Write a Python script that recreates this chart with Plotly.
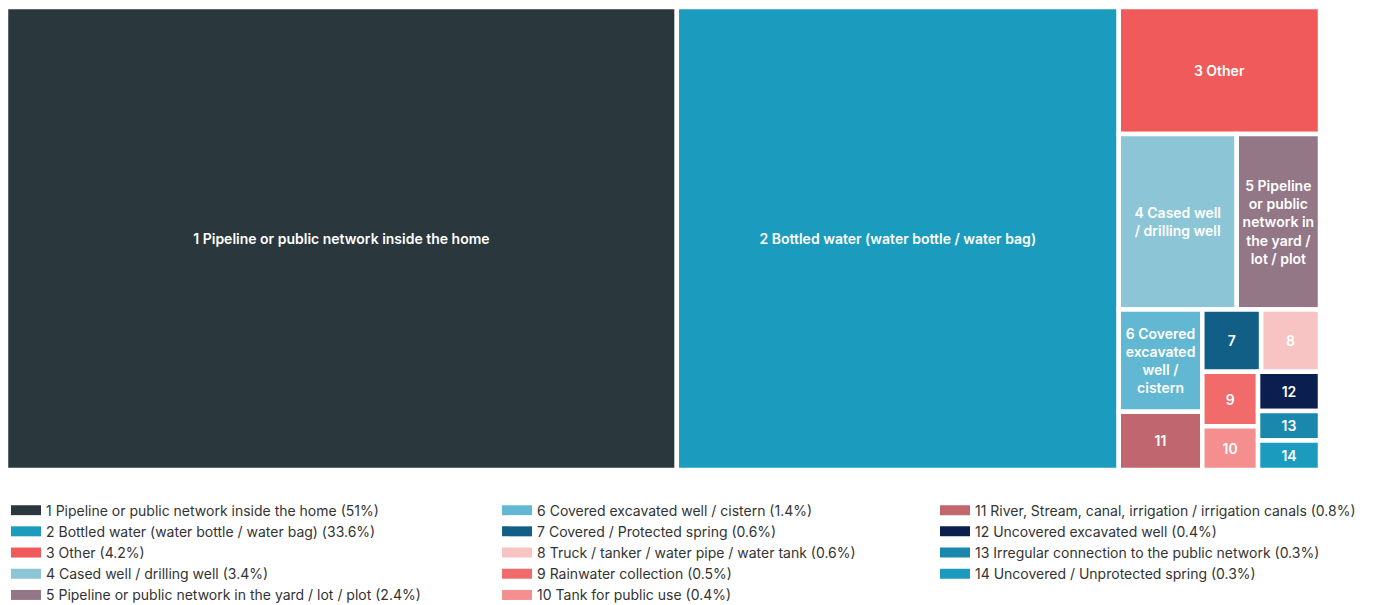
import plotly.graph_objects as go

ids = [str(i) for i in range(1, 15)]
names = [
    "Pipeline or public network inside the home",
    "Bottled water (water bottle / water bag)",
    "Other",
    "Cased well / drilling well",
    "Pipeline or public network in the yard / lot / plot",
    "Covered excavated well / cistern",
    "Covered / Protected spring",
    "Truck / tanker / water pipe / water tank",
    "Rainwater collection",
    "Tank for public use",
    "River, Stream, canal, irrigation / irrigation canals",
    "Uncovered excavated well",
    "Irregular connection to the public network",
    "Uncovered / Unprotected spring",
]
values = [51, 33.6, 4.2, 3.4, 2.4, 1.4, 0.6, 0.6, 0.5, 0.4, 0.8, 0.4, 0.3, 0.3]
tile_text = [
    "1 Pipeline or public network inside the home",
    "2 Bottled water (water bottle / water bag)",
    "3 Other",
    "4 Cased well<br>/ drilling well",
    "5 Pipeline<br>or public<br>network in<br>the yard /<br>lot / plot",
    "6 Covered<br>excavated<br>well /<br>cistern",
    "7", "8", "9", "10", "11", "12", "13", "14",
]
colors = ["#2a373d", "#1b9bbd", "#f05a5a", "#8cc6d6", "#937786", "#62b8d2",
          "#115e87", "#f8c3c3", "#f26b6b", "#f58f8f", "#c0666e", "#0a1f4f",
          "#1a88ac", "#1b9bbd"]

FONT = "Inter"

fig = go.Figure()
fig.add_trace(go.Treemap(
    ids=ids,
    labels=[f"{i} {n}" for i, n in zip(ids, names)],
    parents=[""] * len(ids),
    values=values,
    text=tile_text,
    textinfo="text",
    textposition="middle center",
    textfont=dict(family=FONT, size=14, color="white", weight=600),
    marker=dict(colors=colors, line=dict(color="white", width=4.5),
                pad=dict(t=0, l=0, r=0, b=0)),
    root=dict(color="white"),
    pathbar=dict(visible=False),
    tiling=dict(pad=0, squarifyratio=1.15),
    sort=True,
    hoverinfo="label+value",
))

legend_of = lambda i: "legend" if i < 5 else ("legend2" if i < 10 else "legend3")
for i, (n, v, c) in enumerate(zip(names, values, colors)):
    fig.add_trace(go.Scatter(
        x=[None], y=[None], mode="lines",
        line=dict(color=c, width=11),
        name=f"{i+1} {n} ({v:g}%)",
        legend=legend_of(i),
        hoverinfo="skip",
    ))

leg_common = dict(
    orientation="v", yanchor="top", xanchor="left",
    font=dict(family=FONT, size=14, color="#333333"),
    bgcolor="rgba(0,0,0,0)", tracegroupgap=0, itemclick=False, itemdoubleclick=False,
)
fig.update_layout(
    width=1398, height=605,
    margin=dict(l=6, r=78, t=7, b=135, autoexpand=False),
    paper_bgcolor="white", plot_bgcolor="white",
    font=dict(family=FONT),
    xaxis=dict(visible=False), yaxis=dict(visible=False),
    legend=dict(x=0.0, y=-0.053, **leg_common),
    legend2=dict(x=0.3737, y=-0.053, **leg_common),
    legend3=dict(x=0.707, y=-0.053, **leg_common),
)

fig.write_html("out.html")
